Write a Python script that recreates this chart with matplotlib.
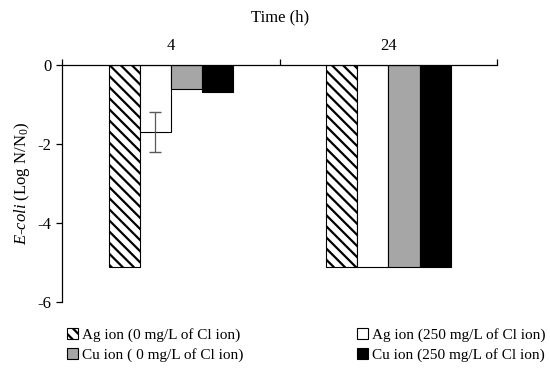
import numpy as np
import matplotlib.pyplot as plt

plt.rcParams['font.family'] = ['Liberation Serif', 'DejaVu Serif']
plt.rcParams['mathtext.fontset'] = 'custom'
plt.rcParams['mathtext.rm'] = 'Liberation Serif'
plt.rcParams['mathtext.it'] = 'Liberation Serif:italic'
plt.rcParams['hatch.linewidth'] = 1.6

times = ['4', '24']
series = ['Ag ion (0 mg/L of Cl ion)', 'Ag ion (250 mg/L of Cl ion)',
          'Cu ion ( 0 mg/L of Cl ion)', 'Cu ion (250 mg/L of Cl ion)']
ag_0 = [-5.12, -5.12]
ag_250 = [-1.7, -5.12]
cu_0 = [-0.6, -5.12]
cu_250 = [-0.68, -5.12]
ag_250_err = [0.5, 0]

fig = plt.figure(figsize=(5.5, 3.7), dpi=100)
ax = fig.add_axes([0.113, 0.184, 0.791, 0.640])

x = np.arange(len(times))
w = 0.143
styles = [dict(facecolor='white', hatch='\\\\\\'),
          dict(facecolor='white'),
          dict(facecolor='#a6a6a6'),
          dict(facecolor='black')]
values = [ag_0, ag_250, cu_0, cu_250]
bars = []
for i, (vals, st, name) in enumerate(zip(values, styles, series)):
    pos = x + (i - 1.5) * w
    bars.append(ax.bar(pos, vals, w, edgecolor='black', linewidth=0.8, label=name, **st))
ax.errorbar(x[:1] + (1 - 1.5) * w, ag_250[:1], yerr=ag_250_err[:1], fmt='none',
            ecolor='#595959', elinewidth=0.9, capsize=4)

ax.set_xlim(-0.5, 1.5)
ax.set_ylim(-6, 0)
ax.set_yticks([0, -2, -4, -6])
ax.set_yticklabels(['0', '-2', '-4', '-6'])
ax.spines['right'].set_visible(False)
ax.spines['bottom'].set_visible(False)
ax.xaxis.tick_top()
ax.xaxis.set_label_position('top')
ax.set_xticks(x)
ax.set_xticklabels(times)
ax.set_xticks([-0.5, 0.5, 1.5], minor=True)
ax.tick_params(axis='x', which='major', length=0, pad=8, labelsize=12)
ax.tick_params(axis='x', which='minor', length=4, direction='out', width=0.9)
ax.tick_params(axis='y', length=4, direction='out', width=0.9, labelsize=12)
for s in ['left', 'top']:
    ax.spines[s].set_linewidth(0.9)
ax.set_xlabel('Time (h)', fontsize=12, labelpad=12)
ax.set_ylabel('$\\mathit{E\u2010coli}$ (Log N/N$_0$)', fontsize=12)

# legend fills by column, so reorder to get Ag on the first row
order = [0, 2, 1, 3]
fig.legend([bars[i] for i in order], [series[i] for i in order],
           loc='lower center', bbox_to_anchor=(0.557, -0.015), ncol=2, frameon=False,
           fontsize=11, handlelength=0.7, handleheight=0.7, handletextpad=0.3,
           columnspacing=7.4, labelspacing=0.4)

fig.savefig('out.png', dpi=100)
